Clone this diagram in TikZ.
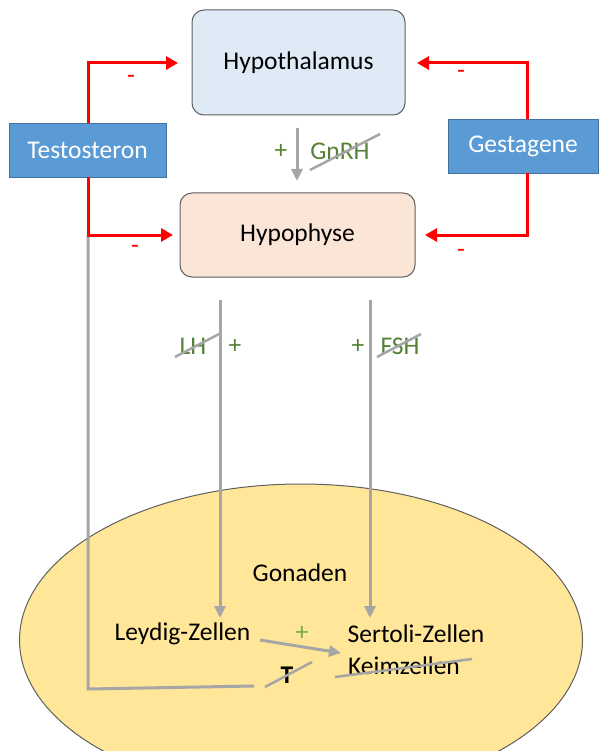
\documentclass[tikz,border=0pt]{standalone}
\usepackage{fontspec}
\setmainfont{Carlito}
\usetikzlibrary{arrows.meta,shapes.geometric}
\definecolor{hypofill}{HTML}{DEEBF7}
\definecolor{hyphfill}{HTML}{FBE5D6}
\definecolor{boxstroke}{HTML}{5F5F5F}
\definecolor{bluebox}{HTML}{5B9BD5}
\definecolor{blueline}{HTML}{41719C}
\definecolor{gonfill}{HTML}{FFE699}
\definecolor{arrgray}{HTML}{A6A6A6}
\definecolor{dgreen}{HTML}{548235}
\definecolor{lgreen}{HTML}{70AD47}
\definecolor{redline}{HTML}{FF0000}
\tikzset{
  organ/.style={draw=boxstroke, line width=1pt, rounded corners=12pt, font=\fontsize{25.5}{30}\selectfont},
  hormone/.style={draw=blueline, fill=bluebox, line width=0.6pt, text=white, font=\fontsize{25.5}{30}\selectfont},
  redarr/.style={draw=redline, line width=3pt, -{Triangle[length=12pt,width=13pt]}},
  grayarr/.style={draw=arrgray, line width=3pt, -{Triangle[length=12pt,width=11pt]}},
  grayline/.style={draw=arrgray, line width=3pt},
  strike/.style={draw=arrgray, line width=2.5pt},
  lbl/.style={font=\fontsize{25.5}{30}\selectfont, inner sep=0pt},
  glbl/.style={lbl, text=dgreen},
  minus/.style={lbl, text=redline}
}
\begin{document}
\begin{tikzpicture}[x=1pt,y=-1pt]
\useasboundingbox (0,0) rectangle (598,751);
\begin{scope}
\clip (0,0) rectangle (598,751);
% gonads ellipse
\node[draw=boxstroke, line width=1pt, fill=gonfill, ellipse, minimum width=563pt, minimum height=312pt, inner sep=0pt] (gon) at (301,640) {};
\end{scope}
\node[lbl] (gonlbl) at (300,573) {Gonaden};
% boxes
\node[organ, fill=hypofill, minimum width=213pt, minimum height=105pt] (hypo) at (298.5,62.5) {Hypothalamus};
\node[organ, fill=hyphfill, minimum width=235pt, minimum height=84pt] (hyph) at (297.5,235) {Hypophyse};
\node[hormone, minimum width=157pt, minimum height=54pt] (testo) at (87.5,150) {Testosteron};
\node[hormone, minimum width=150pt, minimum height=54pt] (gesta) at (523,146) {Gestagene};
% red feedback arrows
\coordinate (ttop) at (88,63);
\coordinate (tbot) at (88,235);
\coordinate (gtop) at (527,63);
\coordinate (gbot) at (527,235);
\coordinate (hypoL) at (178,63);
\coordinate (hyphL) at (173,235);
\coordinate (hypoR) at (417,63);
\coordinate (hyphR) at (425,235);
% gray testosterone line
\coordinate (tcorner) at (88,689);
\coordinate (tend) at (254,686);
\draw[grayline] (tbot) -- (tcorner) -- (tend);
\draw[redarr] (testo.north -| ttop) -- (ttop) -- (hypoL);
\draw[redarr] (testo.south -| tbot) -- (tbot) -- (hyphL);
\draw[redarr] (gesta.north -| gtop) -- (gtop) -- (hypoR);
\draw[redarr] (gesta.south -| gbot) -- (gbot) -- (hyphR);
\node[minus] (m1) at (131,79) {-};
\node[minus] (m2) at (135,249) {-};
\node[minus] (m3) at (461,74) {-};
\node[minus] (m4) at (461,253) {-};
% GnRH
\coordinate (gs) at (297,128);
\coordinate (ge) at (297,181);
\draw[grayarr] (gs) -- (ge);
\node[glbl] (gplus) at (281,151) {+};
\node[glbl] (gnrh) at (340,151) {GnRH};
\coordinate (gst1) at (310,170);
\coordinate (gst2) at (380,134);
\draw[strike] (gst1) -- (gst2);
% LH / FSH
\coordinate (lhs) at (220,300);
\coordinate (lhe) at (220,618);
\coordinate (fshs) at (370,300);
\coordinate (fshe) at (370,618);
\draw[grayarr] (lhs) -- (lhe);
\draw[grayarr] (fshs) -- (fshe);
\node[glbl] (lh) at (193,346) {LH};
\node[glbl] (lhplus) at (235,346) {+};
\node[glbl] (fshplus) at (358,346) {+};
\node[glbl] (fsh) at (400,346) {FSH};
\coordinate (lst1) at (175,357);
\coordinate (lst2) at (219,334);
\coordinate (fst1) at (377,357);
\coordinate (fst2) at (421,334);
\draw[strike] (lst1) -- (lst2);
\draw[strike] (fst1) -- (fst2);
% cells
\node[lbl] (leydig) at (182.5,634) {Leydig-Zellen};
\node[lbl] (sertoli) at (416,634) {Sertoli-Zellen};
\node[lbl] (keim) at (404,666) {Keimzellen};
\coordinate (las) at (260,640);
\coordinate (lae) at (341,653);
\draw[grayarr] (las) -- (lae);
\node[lbl, text=lgreen] (lplus) at (302,633) {+};
\node[lbl, font=\fontsize{25.5}{30}\selectfont\bfseries] (tlbl) at (287,675) {T};
\coordinate (kst1) at (335,677);
\coordinate (kst2) at (472,659);
\draw[strike] (kst1) -- (kst2);
\coordinate (tst1) at (265,687);
\coordinate (tst2) at (312,662);
\draw[strike] (tst1) -- (tst2);
\end{tikzpicture}
\end{document}
